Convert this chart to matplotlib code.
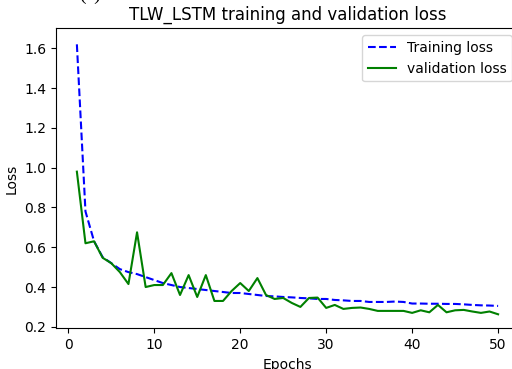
import matplotlib.pyplot as plt

# valores
epochs = list(range(1, 51))
train_loss = [1.62, 0.78, 0.63, 0.55, 0.52, 0.49, 0.475, 0.465, 0.45, 0.435,
              0.42, 0.41, 0.40, 0.395, 0.39, 0.385, 0.38, 0.375, 0.37, 0.37,
              0.365, 0.36, 0.355, 0.353, 0.35, 0.348, 0.345, 0.343, 0.34, 0.34,
              0.335, 0.333, 0.33, 0.33, 0.325, 0.325, 0.325, 0.327, 0.325, 0.317,
              0.317, 0.316, 0.316, 0.315, 0.315, 0.313, 0.31, 0.308, 0.307, 0.305]
val_loss = [0.98, 0.62, 0.63, 0.547, 0.52, 0.475, 0.415, 0.675, 0.40, 0.41,
            0.41, 0.47, 0.36, 0.46, 0.35, 0.46, 0.33, 0.33, 0.38, 0.42,
            0.38, 0.445, 0.36, 0.34, 0.345, 0.32, 0.30, 0.345, 0.347, 0.295,
            0.31, 0.29, 0.295, 0.297, 0.29, 0.28, 0.28, 0.28, 0.28, 0.27,
            0.283, 0.273, 0.31, 0.273, 0.283, 0.285, 0.277, 0.27, 0.277, 0.263]

fig = plt.figure(figsize=(5.12, 3.69), dpi=100)
# o eixo passa da borda direita (figura original recortada)
ax = fig.add_axes([0.109, 0.110, 0.905, 0.813])

ax.plot(epochs, train_loss, 'b--', label='Training loss')
ax.plot(epochs, val_loss, 'g', label='validation loss')
ax.set_title('TLW_LSTM training and validation loss')
ax.set_xlabel('Epochs')
ax.set_ylabel('Loss')
ax.set_xlim(-1.45, 52.45)
ax.set_ylim(0.192, 1.70)
ax.legend(loc='upper right')

# legenda "(a)" cortada no topo
fig.text(0.176, 1.0, '(a)', fontsize=14, family='Liberation Serif',
         ha='center', va='baseline')

fig.savefig('out.png', dpi=100)
